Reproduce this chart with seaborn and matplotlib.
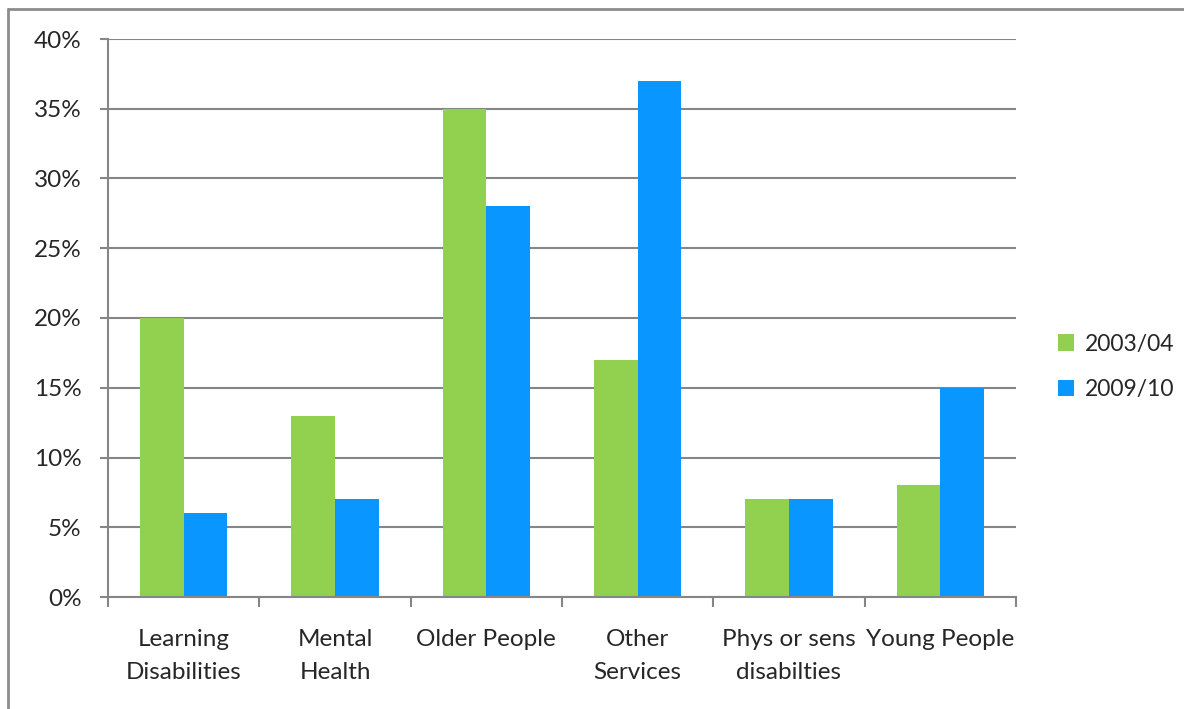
import matplotlib
matplotlib.use("Agg")
import matplotlib.pyplot as plt
import seaborn as sns
import pandas as pd
from matplotlib.lines import Line2D
from matplotlib.ticker import FuncFormatter

categories = ["Learning\nDisabilities", "Mental\nHealth", "Older People", "Other\nServices",
              "Phys or sens\ndisabilties", "Young People"]
series_names = ["2003/04", "2009/10"]
values_2003 = [20, 13, 35, 17, 7, 8]
values_2009 = [6, 7, 28, 37, 7, 15]
colors = ["#92D050", "#0A96FF"]

df = pd.DataFrame({
    "category": categories * 2,
    "series": [series_names[0]] * len(categories) + [series_names[1]] * len(categories),
    "value": values_2003 + values_2009,
})

sns.set_theme(style="white")
plt.rcParams["font.family"] = ["Lato", "DejaVu Sans"]

W, H = 1184, 709
fig = plt.figure(figsize=(W / 100, H / 100), dpi=100)
ax = fig.add_axes([108 / W, 1 - 597 / H, (1016 - 108) / W, (597 - 39) / H])

sns.barplot(data=df, x="category", y="value", hue="series", palette=colors,
            width=0.575, gap=0, saturation=1, linewidth=0, ax=ax, legend=True)

ax.set_ylim(0, 40)
ax.set_xlim(-0.5, len(categories) - 0.5)
ax.set_yticks(range(0, 41, 5))
ax.yaxis.set_major_formatter(FuncFormatter(lambda v, p: f"{int(v)}%"))
ax.set_xlabel("")
ax.set_ylabel("")
ax.set_axisbelow(True)
ax.grid(axis="y", color="#868686", linewidth=1.5)
ax.grid(axis="x", visible=False)

for s in ["top", "right"]:
    ax.spines[s].set_visible(False)
for s in ["left", "bottom"]:
    ax.spines[s].set_color("#868686")
    ax.spines[s].set_linewidth(1.5)

ax.tick_params(axis="y", length=6, width=1.5, color="#868686", labelsize=17.5, pad=13, left=True)
ax.tick_params(axis="x", length=0, labelsize=17.5, pad=23)
# category boundary ticks
ax.set_xticks([i - 0.5 for i in range(len(categories) + 1)], minor=True)
ax.tick_params(axis="x", which="minor", length=7, width=1.5, color="#868686", bottom=True)
for lab in ax.get_xticklabels():
    lab.set_linespacing(1.7)

leg = ax.legend(loc="center left", bbox_to_anchor=(1.024, 0.413), frameon=False,
                fontsize=16.5, handlelength=0.7, handleheight=0.7, handletextpad=0.45,
                labelspacing=1.05)

edge = "#8C8C8C"
fig.add_artist(Line2D([8 / W, 8 / W], [0, 1 - 9 / H], color=edge, linewidth=2))
fig.add_artist(Line2D([8 / W, 1], [1 - 9 / H, 1 - 9 / H], color=edge, linewidth=2))

fig.savefig("out.png", dpi=100, facecolor="white")
